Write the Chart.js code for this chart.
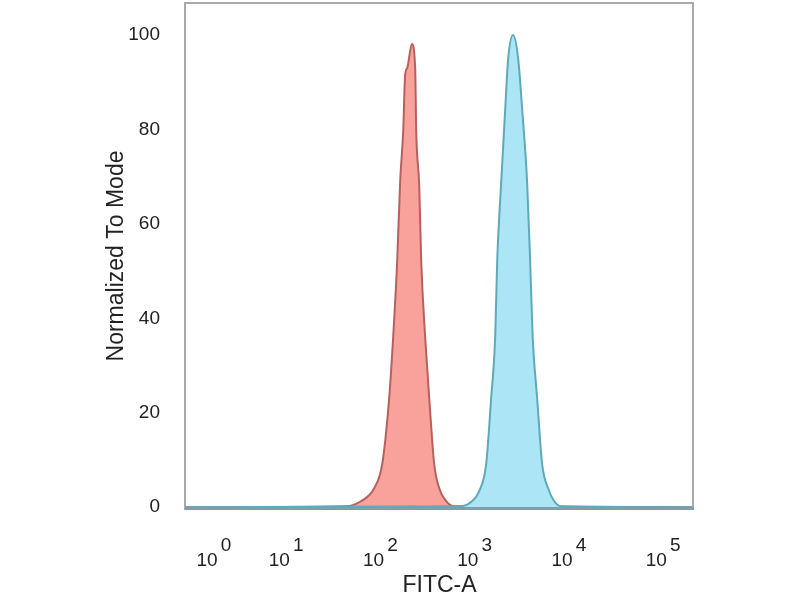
<!DOCTYPE html>
<html>
<head>
<meta charset="utf-8">
<script src="https://cdn.jsdelivr.net/npm/chart.js@4.4.1/dist/chart.umd.min.js"></script>
<style>
  html, body { margin: 0; padding: 0; background: #ffffff; }
  #wrap { width: 800px; height: 600px; }
</style>
</head>
<body>
<div id="wrap"><canvas id="c" width="800" height="600"></canvas></div>
<script>
// x values are in display decades (biexponential-like FITC-A axis), y in % of mode
const redX  = [0, 1.71, 1.87, 2.007, 2.092, 2.166, 2.209, 2.251, 2.283, 2.315, 2.336, 2.357, 2.407, 2.442, 2.453, 2.485, 2.506, 2.548, 2.591, 2.644, 2.697, 2.771, 2.856, 5.4];
const redY  = [0, 0.2, 1.3, 4.0, 9.1, 23.1, 36.2, 52.1, 69.1, 79.7, 91.7, 93.0, 98.1, 93.0, 79.7, 68.0, 52.1, 36.0, 23.1, 9.1, 4.0, 1.3, 0.2, 0];
const blueX = [0, 2.93, 3.047, 3.121, 3.195, 3.248, 3.291, 3.312, 3.354, 3.397, 3.428, 3.481, 3.535, 3.577, 3.63, 3.662, 3.688, 3.736, 3.789, 3.852, 3.916, 3.99, 5.4];
const blueY = [0, 0.2, 1.3, 3.4, 9.1, 23.1, 36.2, 52.1, 68.6, 84.3, 94.9, 100, 94.9, 84.3, 68.6, 52.1, 36.2, 23.1, 9.1, 4.0, 1.3, 0.2, 0];
const xTickValues = [0.233, 1, 2, 3, 4, 5];
const xTickExponents = ['0', '1', '2', '3', '4', '5'];
const yTickValues = [0, 20, 40, 60, 80, 100];
const xTitle = 'FITC-A';
const yTitle = 'Normalized To Mode';

const toPoints = (xs, ys) => xs.map((x, i) => ({ x: x, y: ys[i] }));

const framePlugin = {
  id: 'frame',
  afterDatasetsDraw(chart) {
    const { ctx, chartArea: a } = chart;
    ctx.save();
    ctx.strokeStyle = '#a9a9a9';
    ctx.lineWidth = 2;
    ctx.beginPath();
    ctx.moveTo(a.left, a.bottom);
    ctx.lineTo(a.left, a.top + 1);
    ctx.lineTo(a.right - 1, a.top + 1);
    ctx.lineTo(a.right - 1, a.bottom);
    ctx.stroke();
    ctx.strokeStyle = '#7f9eaa';
    ctx.lineWidth = 3;
    ctx.beginPath();
    ctx.moveTo(a.left, a.bottom - 1.5);
    ctx.lineTo(a.right, a.bottom - 1.5);
    ctx.stroke();
    ctx.restore();
  }
};

new Chart(document.getElementById('c'), {
  type: 'line',
  data: {
    datasets: [
      {
        label: 'Isotype',
        data: toPoints(redX, redY),
        borderColor: '#b4615f',
        backgroundColor: '#f9a29c',
        borderWidth: 2,
        fill: 'origin',
        pointRadius: 0,
        cubicInterpolationMode: 'monotone',
        order: 2
      },
      {
        label: 'Antibody',
        data: toPoints(blueX, blueY),
        borderColor: '#5fa9b9',
        backgroundColor: '#abe5f6',
        borderWidth: 2,
        fill: 'origin',
        pointRadius: 0,
        cubicInterpolationMode: 'monotone',
        order: 1
      }
    ]
  },
  options: {
    responsive: false,
    animation: false,
    devicePixelRatio: 1,
    layout: { padding: { left: 103, top: 2, right: 106, bottom: 0 } },
    plugins: { legend: { display: false }, tooltip: { enabled: false }, title: { display: false } },
    scales: {
      x: {
        type: 'linear',
        min: 0,
        max: 5.4,
        afterFit(axis) { axis.height = 90; axis.paddingLeft = 0; axis.paddingRight = 0; },
        afterBuildTicks(axis) { axis.ticks = xTickValues.map(v => ({ value: v })); },
        grid: { display: false, drawTicks: false },
        border: { display: false },
        ticks: {
          autoSkip: false,
          maxRotation: 0,
          padding: 28,
          color: '#222222',
          font: { family: '"Liberation Sans", Arial, sans-serif', size: 19, lineHeight: '15px' },
          callback(value, index) { return ['\u2003\u2003' + xTickExponents[index], '10']; }
        },
        title: {
          display: true,
          text: xTitle,
          color: '#222222',
          padding: { top: 0, bottom: 1 },
          font: { family: '"Liberation Sans", Arial, sans-serif', size: 23 }
        }
      },
      y: {
        type: 'linear',
        min: -0.6,
        max: 107,
        afterFit(axis) { axis.width = 82; axis.paddingTop = 0; axis.paddingBottom = 0; },
        afterBuildTicks(axis) { axis.ticks = yTickValues.map(v => ({ value: v })); },
        grid: { display: false, drawTicks: false },
        border: { display: false },
        ticks: {
          padding: 25,
          color: '#222222',
          font: { family: '"Liberation Sans", Arial, sans-serif', size: 19 }
        },
        title: {
          display: true,
          text: yTitle,
          color: '#222222',
          padding: { top: 0, bottom: 0 },
          font: { family: '"Liberation Sans", Arial, sans-serif', size: 23 }
        }
      }
    }
  },
  plugins: [framePlugin]
});
</script>
</body>
</html>
